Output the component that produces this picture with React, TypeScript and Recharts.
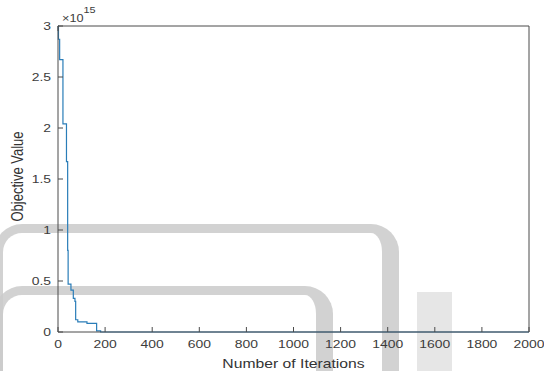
import { LineChart, Line, XAxis, YAxis } from 'recharts'

// iteration where each step of the best objective starts (values in units of 1e15)
const iterations = [0, 2, 7, 21, 36, 41, 43, 55, 65, 72, 75, 84, 123, 164, 181, 2000]
const objective = [3.0, 2.87, 2.67, 2.04, 1.67, 0.8, 0.47, 0.41, 0.33, 0.3, 0.12, 0.1, 0.085, 0.012, 0, 0]

const xTicks = [0, 200, 400, 600, 800, 1000, 1200, 1400, 1600, 1800, 2000]
const yTicks = [0, 0.5, 1, 1.5, 2, 2.5, 3]

const data = iterations.map((it, i) => ({ iter: it, value: objective[i] }))

const font = '"Liberation Sans", Arial, sans-serif'
const axisColor = '#4a4a4a'
const textColor = '#3c3c3c'
const band = '#cbcbcb'
// the figure was stretched sideways, so text is wider than it is tall
const SX = 1.21

const stretch = (x: number) => `translate(${x} 0) scale(${SX} 1) translate(${-x} 0)`

const XTick = (props: any) => {
  const { x, y, payload } = props
  return (
    <text x={x} y={y + 8} textAnchor="middle" fontSize={11.5} fontFamily={font} fill={textColor} transform={stretch(x)}>
      {payload.value}
    </text>
  )
}

const YTick = (props: any) => {
  const { x, y, payload } = props
  return (
    <text x={x} y={y + 4} textAnchor="end" fontSize={11.5} fontFamily={font} fill={textColor} transform={stretch(x)}>
      {payload.value}
    </text>
  )
}

const noLabel = () => <g />

const bandStyle = {
  position: 'absolute' as const,
  boxSizing: 'border-box' as const,
  borderTop: `9px solid ${band}`,
  borderLeft: `9px solid ${band}`,
  borderRight: `17px solid ${band}`,
  borderRadius: 28,
  opacity: 0.85,
}

export default function App() {
  return (
    <div style={{ position: 'absolute', left: 0, top: 0, width: 544, height: 371, background: '#fff', overflow: 'hidden' }}>
      {/* faint watermark behind the plot */}
      <div style={{ ...bandStyle, left: -6, top: 224, width: 405, height: 220 }} />
      <div style={{ ...bandStyle, left: -6, top: 286, width: 339, height: 160 }} />
      <div style={{ position: 'absolute', left: 417, top: 292, width: 35, height: 79, background: '#e6e6e6' }} />

      <div style={{ position: 'absolute', left: 0, top: 0 }}>
        <LineChart width={544} height={371} data={data} margin={{ top: 25, right: 14, bottom: 0, left: 0 }}>
          <XAxis
            dataKey="iter"
            type="number"
            domain={[0, 2000]}
            ticks={xTicks}
            interval={0}
            stroke={axisColor}
            tickSize={-5}
            tickMargin={13}
            height={39}
            tick={XTick}
          />
          <XAxis
            xAxisId="top"
            orientation="top"
            type="number"
            domain={[0, 2000]}
            ticks={xTicks}
            interval={0}
            stroke={axisColor}
            tickSize={-5}
            height={1}
            tick={noLabel}
          />
          <YAxis
            type="number"
            domain={[0, 3]}
            ticks={yTicks}
            interval={0}
            stroke={axisColor}
            tickSize={-5}
            tickMargin={12}
            width={58}
            tick={YTick}
          />
          <YAxis
            yAxisId="right"
            orientation="right"
            type="number"
            domain={[0, 3]}
            ticks={yTicks}
            interval={0}
            stroke={axisColor}
            tickSize={-5}
            width={1}
            tick={noLabel}
          />
          <Line
            type="stepAfter"
            dataKey="value"
            stroke="#2a7db8"
            strokeWidth={1.2}
            dot={false}
            isAnimationActive={false}
          />
        </LineChart>
      </div>

      <svg width={544} height={371} style={{ position: 'absolute', left: 0, top: 0, pointerEvents: 'none' }}>
        <text x={62} y={22.5} fontSize={10.5} fontFamily={font} fill={textColor} transform={stretch(62)}>
          ×10<tspan dy={-9} fontSize={9}>15</tspan>
        </text>
        <text x={293.5} y={368} textAnchor="middle" fontSize={13} fontFamily={font} fill="#333" transform={stretch(293.5)}>
          Number of Iterations
        </text>
        <g transform={`translate(23 176.5) scale(${SX} 1) rotate(-90)`}>
          <text x={0} y={0} textAnchor="middle" fontSize={13} fontFamily={font} fill="#333">
            Objective Value
          </text>
        </g>
      </svg>
    </div>
  )
}
